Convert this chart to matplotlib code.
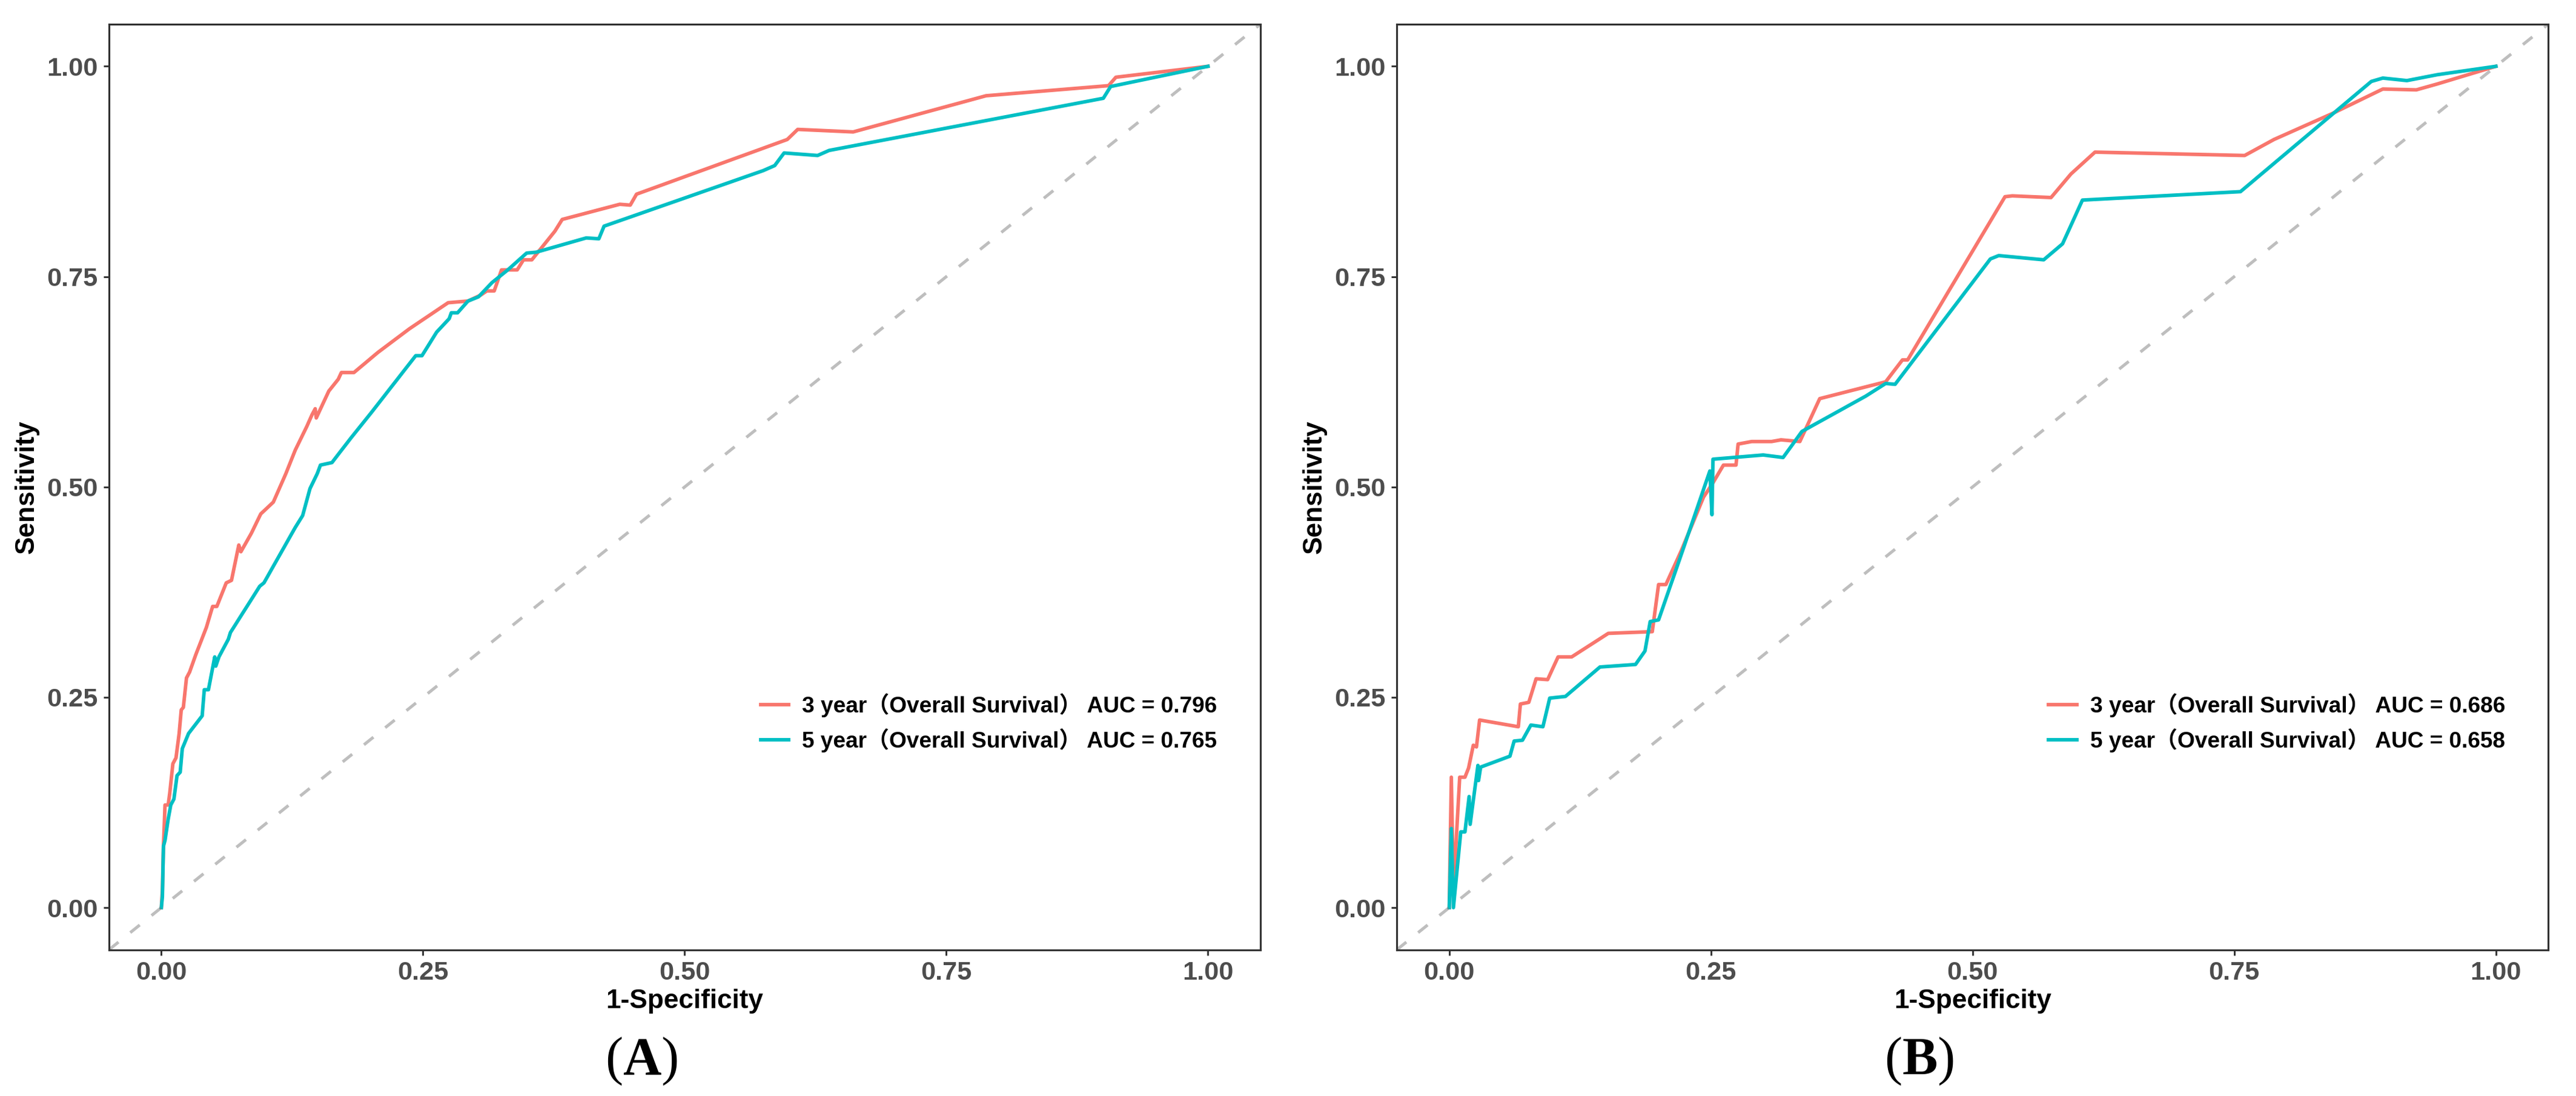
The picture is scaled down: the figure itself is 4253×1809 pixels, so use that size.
import matplotlib
matplotlib.use("Agg")
import matplotlib.pyplot as plt
from matplotlib.font_manager import FontProperties
from matplotlib.ticker import FormatStrFormatter

plt.rcParams['font.family'] = ['Liberation Sans', 'Noto Sans CJK SC', 'DejaVu Sans']
plt.rcParams['mathtext.fontset'] = 'custom'
plt.rcParams['mathtext.bf'] = 'Liberation Serif:bold'
plt.rcParams['mathtext.rm'] = 'Liberation Serif'

# ---- panel A : ROC points ----
fpr_a3 = [0, 0.001, 0.002, 0.0035, 0.0065, 0.008, 0.011, 0.014, 0.017, 0.019, 0.021, 0.024,
          0.027, 0.033, 0.043, 0.049, 0.053, 0.062, 0.067, 0.074, 0.076, 0.086, 0.095, 0.107,
          0.119, 0.128, 0.139, 0.144, 0.147, 0.148, 0.160, 0.169, 0.172, 0.184, 0.207, 0.237,
          0.274, 0.293, 0.305, 0.311, 0.318, 0.325, 0.340, 0.346, 0.354, 0.376, 0.383, 0.438,
          0.448, 0.454, 0.598, 0.608, 0.661, 0.788, 0.905, 0.912, 1.0]
tpr_a3 = [0, 0.02, 0.073, 0.122, 0.122, 0.136, 0.171, 0.178, 0.207, 0.235, 0.238, 0.273,
          0.28, 0.301, 0.333, 0.358, 0.358, 0.386, 0.389, 0.431, 0.423, 0.445, 0.468, 0.482,
          0.516, 0.544, 0.572, 0.586, 0.593, 0.582, 0.614, 0.628, 0.636, 0.636, 0.660, 0.688,
          0.719, 0.721, 0.728, 0.733, 0.733, 0.758, 0.758, 0.770, 0.770, 0.804, 0.818, 0.836,
          0.835, 0.848, 0.913, 0.925, 0.922, 0.965, 0.977, 0.987, 1.0]

fpr_a5 = [0, 0.001, 0.002, 0.0035, 0.0065, 0.009, 0.012, 0.015, 0.018, 0.020, 0.026, 0.039,
          0.041, 0.045, 0.051, 0.052, 0.055, 0.064, 0.066, 0.094, 0.098, 0.128, 0.135, 0.142,
          0.149, 0.152, 0.163, 0.181, 0.201, 0.243, 0.249, 0.263, 0.275, 0.277, 0.283, 0.293,
          0.303, 0.316, 0.331, 0.349, 0.358, 0.406, 0.418, 0.423, 0.575, 0.586, 0.595, 0.627,
          0.638, 0.900, 0.907, 1.0]
tpr_a5 = [0, 0.013, 0.073, 0.080, 0.105, 0.122, 0.129, 0.157, 0.161, 0.189, 0.207, 0.228,
          0.259, 0.259, 0.298, 0.287, 0.298, 0.319, 0.327, 0.382, 0.386, 0.452, 0.466, 0.498,
          0.516, 0.526, 0.529, 0.558, 0.589, 0.656, 0.656, 0.684, 0.700, 0.707, 0.707, 0.721,
          0.726, 0.743, 0.758, 0.778, 0.779, 0.796, 0.795, 0.810, 0.876, 0.882, 0.897, 0.894,
          0.900, 0.962, 0.976, 1.0]

# ---- panel B ----
fpr_b3 = [0, 0.002, 0.004, 0.010, 0.015, 0.0185, 0.023, 0.026, 0.029, 0.066, 0.068, 0.076,
          0.083, 0.094, 0.104, 0.117, 0.152, 0.194, 0.200, 0.207, 0.222, 0.243, 0.252, 0.262,
          0.274, 0.276, 0.289, 0.308, 0.317, 0.335, 0.354, 0.417, 0.433, 0.438, 0.531, 0.538,
          0.575, 0.594, 0.617, 0.760, 0.788, 0.844, 0.892, 0.924, 0.944, 1.0]
tpr_b3 = [0, 0.155, 0.02, 0.155, 0.155, 0.166, 0.193, 0.191, 0.223, 0.215, 0.242, 0.244,
          0.272, 0.271, 0.298, 0.298, 0.326, 0.328, 0.384, 0.384, 0.425, 0.488, 0.505, 0.526,
          0.526, 0.551, 0.554, 0.554, 0.556, 0.554, 0.605, 0.625, 0.651, 0.651, 0.845, 0.846,
          0.844, 0.872, 0.898, 0.894, 0.913, 0.944, 0.973, 0.972, 0.979, 1.0]

fpr_b5 = [0, 0.002, 0.004, 0.011, 0.015, 0.019, 0.020, 0.0274, 0.028, 0.030, 0.058, 0.062,
          0.070, 0.078, 0.0895, 0.096, 0.111, 0.144, 0.178, 0.187, 0.192, 0.200, 0.224, 0.249,
          0.251, 0.252, 0.300, 0.319, 0.337, 0.398, 0.417, 0.426, 0.517, 0.525, 0.568, 0.586,
          0.605, 0.756, 0.881, 0.892, 0.915, 0.944, 1.0]
tpr_b5 = [0, 0.094, 0.0, 0.09, 0.09, 0.132, 0.099, 0.169, 0.151, 0.167, 0.180, 0.198,
          0.199, 0.217, 0.215, 0.249, 0.251, 0.286, 0.289, 0.305, 0.340, 0.342, 0.428, 0.519,
          0.467, 0.533, 0.538, 0.535, 0.566, 0.608, 0.623, 0.622, 0.771, 0.775, 0.770, 0.789,
          0.841, 0.851, 0.982, 0.986, 0.983, 0.990, 1.0]

auc_a = [0.796, 0.765]
auc_b = [0.686, 0.658]
series_names = ["3 year（Overall Survival）", "5 year（Overall Survival）"]
panel_tags = ["A", "B"]
colors = ["#F8766D", "#00BFC4"]

W, H, DPI = 4253, 1809, 300
fig = plt.figure(figsize=(W / DPI, H / DPI), dpi=DPI)

leg_font = FontProperties(family=['Liberation Sans', 'Noto Sans CJK SC'], weight='bold', size=8.9)


def draw_panel(ax, curves, aucs):
    for (fx, ty), col, name, auc in zip(curves, colors, series_names, aucs):
        ax.plot(fx, ty, color=col, lw=1.4, solid_joinstyle='round',
                label=f"{name} AUC = {auc:.3f}")
    ax.axline((0, 0), (1, 1), color="#7F7F7F", alpha=0.5, lw=1.2, linestyle=(0, (4, 5)))
    ax.set_xlim(-0.05, 1.05)
    ax.set_ylim(-0.05, 1.05)
    ticks = [0, 0.25, 0.5, 0.75, 1.0]
    ax.set_xticks(ticks)
    ax.set_yticks(ticks)
    ax.xaxis.set_major_formatter(FormatStrFormatter('%.2f'))
    ax.yaxis.set_major_formatter(FormatStrFormatter('%.2f'))
    for sp in ax.spines.values():
        sp.set_color("#333333")
        sp.set_linewidth(0.75)
    ax.tick_params(length=2.2, width=0.7, color="#333333", labelcolor="#4D4D4D",
                   labelsize=10.4, pad=2.2)
    for lab in ax.get_xticklabels() + ax.get_yticklabels():
        lab.set_fontweight('bold')
    ax.set_xlabel("1-Specificity", fontsize=10.6, fontweight='bold', labelpad=1.5)
    ax.set_ylabel("Sensitivity", fontsize=10.6, fontweight='bold', labelpad=3)
    ax.legend(loc='center left', bbox_to_anchor=(0.566, 0.245), frameon=False,
              prop=leg_font, handlelength=1.25, handletextpad=0.6, labelspacing=0.5,
              borderpad=0, borderaxespad=0)
    ax.set_facecolor("white")


ax_a = fig.add_axes([180 / W, 1 - 1567.5 / H, 1900.8 / W, 1527.5 / H])
ax_b = fig.add_axes([2306.3 / W, 1 - 1567.5 / H, 1900.8 / W, 1527.5 / H])

draw_panel(ax_a, [(fpr_a3, tpr_a3), (fpr_a5, tpr_a5)], auc_a)
draw_panel(ax_b, [(fpr_b3, tpr_b3), (fpr_b5, tpr_b5)], auc_b)

# panel tags under each plot
for xpos, tag in zip([1059, 3168], panel_tags):
    fig.text(xpos / W, 1 - 1752 / H, "(" + r"$\mathbf{" + tag + "}$" + ")",
             ha='center', va='center', fontsize=21, family='Liberation Serif')

fig.savefig("out.png", dpi=DPI, facecolor="white")
